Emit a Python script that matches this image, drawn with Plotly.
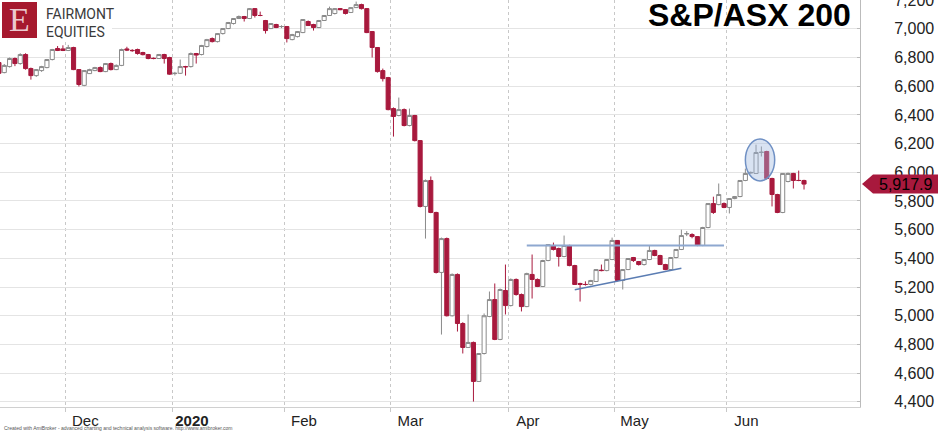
import pandas as pd
import plotly.graph_objects as go

# ASX trading days shown on the chart (weekdays minus exchange holidays)
holidays = ["2019-12-25", "2019-12-26", "2020-01-01", "2020-01-27",
            "2020-04-10", "2020-04-13", "2020-06-08"]
dates = [d for d in pd.bdate_range("2019-11-13", "2020-06-22").strftime("%Y-%m-%d")
         if d not in holidays]

opens = [6765, 6695, 6737, 6793, 6758, 6821, 6723, 6674, 6709, 6730,
         6786, 6863, 6860, 6849, 6870, 6716, 6606, 6688, 6709, 6730,
         6702, 6758, 6716, 6745, 6860, 6850, 6856, 6835, 6821, 6795,
         6793, 6821, 6800, 6688, 6690, 6737, 6737, 6828, 6821, 6877,
         6932, 6911, 6967, 7002, 7037, 7072, 7086, 7072, 7141, 7093,
         7058, 7002, 7030, 7016, 7016, 6925, 6946, 6974, 7051, 7030,
         7009, 7058, 7093, 7107, 7141, 7134, 7114, 7148, 7169, 7141,
         6981, 6870, 6709, 6660, 6444, 6396, 6437, 6326, 6396, 6221,
         5762, 5943, 5720, 5302, 5538, 5000, 5288, 4946, 4779, 4814,
         4542, 4737, 4995, 5113, 4835, 5176, 5071, 5253, 5148, 5064,
         5288, 5253, 5204, 5385, 5490, 5469, 5413, 5490, 5350, 5225,
         5218, 5218, 5239, 5318, 5315, 5392, 5525, 5246, 5322, 5406,
         5378, 5357, 5392, 5455, 5420, 5357, 5322, 5406, 5462, 5570,
         5566, 5552, 5490, 5615, 5782, 5775, 5782, 5755, 5817, 5831,
         5943, 5995, 5992, 6138, 6145, 5957, 5845, 5720, 5936, 5992,
         5943, 5943]
highs = [6775, 6755, 6800, 6800, 6830, 6830, 6730, 6720, 6742, 6790,
         6860, 6880, 6885, 6888, 6875, 6720, 6712, 6722, 6735, 6738,
         6762, 6765, 6752, 6862, 6875, 6858, 6862, 6840, 6825, 6800,
         6825, 6826, 6805, 6700, 6786, 6742, 6835, 6832, 6888, 6930,
         6940, 6970, 7005, 7048, 7075, 7093, 7090, 7145, 7145, 7120,
         7062, 7040, 7035, 7025, 7020, 6965, 6985, 7068, 7058, 7035,
         7062, 7096, 7155, 7145, 7145, 7138, 7152, 7190, 7175, 7145,
         6985, 6872, 6723, 6665, 6452, 6521, 6445, 6444, 6400, 6225,
         5950, 5971, 5725, 5545, 5545, 5295, 5295, 4955, 5009, 4820,
         4740, 5016, 5169, 5225, 5190, 5357, 5260, 5260, 5155, 5300,
         5427, 5260, 5390, 5500, 5510, 5475, 5559, 5495, 5355, 5230,
         5240, 5250, 5326, 5357, 5395, 5545, 5528, 5326, 5402, 5410,
         5382, 5395, 5490, 5460, 5425, 5362, 5410, 5466, 5600, 5590,
         5575, 5555, 5620, 5785, 5830, 5922, 5790, 5820, 5835, 5945,
         6026, 6005, 6193, 6180, 6150, 5962, 5850, 5995, 5998, 5996,
         6012, 5948]
lows = [6680, 6690, 6730, 6740, 6750, 6715, 6646, 6665, 6700, 6725,
        6780, 6845, 6845, 6845, 6712, 6598, 6600, 6685, 6705, 6698,
        6698, 6710, 6712, 6740, 6845, 6840, 6820, 6815, 6788, 6788,
        6790, 6758, 6680, 6675, 6685, 6674, 6730, 6758, 6815, 6870,
        6905, 6905, 6960, 6998, 7030, 7068, 7051, 7068, 7079, 7088,
        6967, 6998, 7005, 7005, 6905, 6920, 6940, 6970, 7020, 6988,
        7005, 7055, 7090, 7100, 7130, 7100, 7110, 7145, 7135, 6970,
        6800, 6695, 6633, 6432, 6249, 6390, 6320, 6320, 6215, 5755,
        5538, 5715, 5295, 4869, 4995, 4995, 4890, 4737, 4775, 4402,
        4538, 4730, 4990, 4830, 4830, 5009, 5065, 5140, 5030, 5060,
        5120, 5200, 5200, 5380, 5455, 5343, 5408, 5345, 5215, 5099,
        5210, 5212, 5235, 5310, 5310, 5388, 5240, 5183, 5318, 5375,
        5350, 5350, 5388, 5415, 5355, 5318, 5318, 5400, 5458, 5555,
        5540, 5485, 5485, 5610, 5710, 5770, 5750, 5713, 5812, 5826,
        5938, 5990, 5988, 6110, 5950, 5762, 5715, 5715, 5930, 5887,
        5938, 5880]
closes = [6690, 6745, 6793, 6758, 6821, 6723, 6674, 6716, 6737, 6786,
          6856, 6849, 6849, 6870, 6716, 6612, 6709, 6716, 6730, 6702,
          6758, 6716, 6745, 6856, 6852, 6848, 6828, 6820, 6793, 6793,
          6821, 6793, 6684, 6690, 6737, 6735, 6828, 6817, 6884, 6925,
          6911, 6967, 7002, 7044, 7072, 7086, 7072, 7141, 7093, 7093,
          6988, 7037, 7009, 7016, 6932, 6960, 6981, 7065, 7023, 7009,
          7058, 7093, 7141, 7141, 7134, 7107, 7148, 7169, 7141, 6974,
          6870, 6702, 6653, 6437, 6389, 6437, 6326, 6396, 6221, 5762,
          5943, 5720, 5302, 5538, 5000, 5288, 4946, 4779, 4814, 4542,
          4737, 5000, 5113, 4835, 5183, 5071, 5253, 5148, 5064, 5294,
          5253, 5204, 5385, 5496, 5462, 5413, 5490, 5350, 5218, 5218,
          5218, 5246, 5322, 5315, 5392, 5525, 5246, 5322, 5399, 5385,
          5357, 5392, 5455, 5420, 5357, 5322, 5406, 5462, 5559, 5573,
          5552, 5490, 5615, 5782, 5720, 5845, 5755, 5817, 5831, 5943,
          5992, 5999, 6138, 6140, 5957, 5845, 5720, 5992, 5992, 5943,
          5943, 5917.9]

month_labels = ["Dec", "<b>2020</b>", "Feb", "Mar", "Apr", "May", "Jun"]

# hand drawn annotations
resistance_level = 5490
resistance_span = ["2020-04-06", "2020-05-29"]
support_dates = ["2020-04-21", "2020-05-19"]
support_levels = [5181, 5331]
circle_dates = ["2020-06-05", "2020-06-15"]
circle_levels = [5940, 6232]

CRIMSON = "#a8193d"
idx = list(range(len(dates)))
pos = {d: i for i, d in enumerate(dates)}
month_starts = [i for i in range(1, len(dates)) if dates[i][:7] != dates[i - 1][:7]]

fig = go.Figure()

fig.add_trace(go.Candlestick(
    x=idx, open=opens, high=highs, low=lows, close=closes,
    customdata=dates,
    increasing=dict(line=dict(color="#8a8a8a", width=1), fillcolor="white"),
    decreasing=dict(line=dict(color=CRIMSON, width=1), fillcolor=CRIMSON),
    whiskerwidth=0,
    showlegend=False,
))

fig.add_trace(go.Scatter(
    x=[pos[d] for d in resistance_span], y=[resistance_level] * 2,
    mode="lines", line=dict(color="#8ea8d0", width=2), showlegend=False,
))
fig.add_trace(go.Scatter(
    x=[pos[d] for d in support_dates], y=support_levels,
    mode="lines", line=dict(color="#5b7db3", width=1.5), showlegend=False,
))

fig.add_shape(
    type="circle", xref="x", yref="y",
    x0=pos[circle_dates[0]] - 1.0, x1=pos[circle_dates[1]] - 0.5,
    y0=circle_levels[0], y1=circle_levels[1],
    line=dict(color="#6f90c4", width=1.5),
    fillcolor="rgba(160,185,222,0.4)", layer="above",
)

y_lo, y_hi = 4364, 7201

# logo
fig.add_shape(type="rect", xref="paper", yref="paper",
              x0=0, x1=112 / 860, y0=1 - 40 / 407, y1=1,
              fillcolor="white", line_width=0, layer="above")
fig.add_shape(type="rect", xref="paper", yref="paper",
              x0=2 / 860, x1=37 / 860, y0=1 - 38 / 407, y1=1 - 2 / 407,
              fillcolor="#a6192e", line_width=0, layer="above")
fig.add_annotation(text="E", xref="paper", yref="paper",
                   x=19.5 / 860, y=1 - 20 / 407, xanchor="center", yanchor="middle",
                   showarrow=False,
                   font=dict(family="Liberation Serif, serif", size=34, color="#ecc9cf"))
fig.add_annotation(text="FAIRMONT<br>EQUITIES", xref="paper", yref="paper",
                   x=44 / 860, y=1 - 4 / 407, xanchor="left", yanchor="top",
                   align="left", showarrow=False,
                   font=dict(family="Roboto, Arial", size=14, color="#3a3a3a"))

# title
fig.add_annotation(text="<b>S&P/ASX 200</b>", xref="paper", yref="paper",
                   x=853 / 860, y=1 - 15 / 407, xanchor="right", yanchor="middle",
                   showarrow=False,
                   font=dict(family="Liberation Sans, Arial", size=32, color="black"))

# last price tag
last = closes[-1]
ty = (last - y_lo) / (y_hi - y_lo)
h = 9.5 / 407
fig.add_shape(type="path", xref="paper", yref="paper",
              path=(f"M {862 / 860},{ty} L {873 / 860},{ty + h} L {938 / 860},{ty + h} "
                    f"L {938 / 860},{ty - h} L {873 / 860},{ty - h} Z"),
              fillcolor=CRIMSON, line_width=0, layer="above")
fig.add_annotation(text=f"{last:,.1f}", xref="paper", yref="paper",
                   x=905 / 860, y=ty, xanchor="center", yanchor="middle", showarrow=False,
                   font=dict(family="Liberation Sans, Arial", size=16, color="black"))

fig.add_annotation(
    text="Created with AmiBroker - advanced charting and technical analysis software. http://www.amibroker.com",
    xref="paper", yref="paper", x=0.002, y=1 - 428 / 407, xanchor="left", yanchor="middle",
    showarrow=False, font=dict(family="Liberation Sans, Arial", size=5, color="#555"))

fig.update_layout(
    width=939, height=433,
    margin=dict(l=0, r=79, t=0, b=26, autoexpand=False),
    paper_bgcolor="white", plot_bgcolor="white",
    boxgap=0.1, boxgroupgap=0.15,
    font=dict(family="Liberation Sans, Arial", color="#222"),
    xaxis=dict(
        range=[0.2, 161.5],
        rangeslider=dict(visible=False),
        tickmode="array",
        tickvals=[m + 3.2 for m in month_starts],
        ticktext=month_labels,
        showgrid=False, zeroline=False,
        showline=True, linecolor="#d0d0d0",
        tickfont=dict(size=15, color="#222"),
        automargin=False,
        minor=dict(tickmode="array", tickvals=[m - 0.5 for m in month_starts],
                   showgrid=True, gridcolor="#c8c8c8", griddash="dot",
                   ticks="outside", ticklen=4, tickcolor="#c8c8c8"),
    ),
    yaxis=dict(
        side="right", range=[y_lo, y_hi], dtick=200, tickformat=",d",
        gridcolor="#e4e4e4", zeroline=False,
        showline=True, linecolor="#bbbbbb",
        ticks="inside", ticklen=3, tickcolor="#bbbbbb",
        ticklabelstandoff=30, automargin=False, ticklabeloverflow="allow",
        tickfont=dict(size=16, color="#222"),
    ),
)

# page body margin would shift the 939x433 figure off the window origin
fig.write_html("out.html", config={"displayModeBar": False},
               post_script="document.body.style.margin='0px';")
